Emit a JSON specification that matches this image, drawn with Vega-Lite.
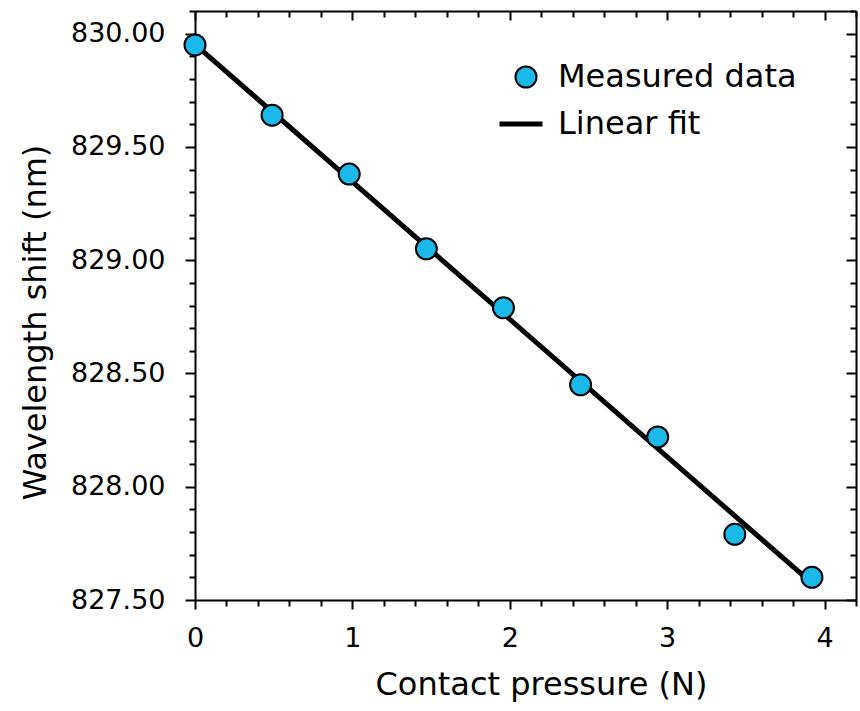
{
  "$schema": "https://vega.github.io/schema/vega-lite/v6.json",
  "width": 661,
  "height": 589,
  "autosize": "none",
  "padding": {"left": 195, "top": 11, "right": 4, "bottom": 111},
  "background": "white",
  "config": {"view": {"stroke": null}, "font": "DejaVu Sans"},
  "datasets": {
    "measured": [
      {"p": 0, "w": 829.95},
      {"p": 0.49, "w": 829.64},
      {"p": 0.98, "w": 829.38},
      {"p": 1.47, "w": 829.05},
      {"p": 1.96, "w": 828.79},
      {"p": 2.45, "w": 828.45},
      {"p": 2.94, "w": 828.22},
      {"p": 3.43, "w": 827.79},
      {"p": 3.92, "w": 827.60}
    ],
    "fit": [
      {"p": 0, "w": 829.953},
      {"p": 3.92, "w": 827.574}
    ]
  },
  "resolve": {"axis": {"x": "independent", "y": "independent"}},
  "layer": [
    {
      "data": {"name": "fit"},
      "mark": {"type": "line", "strokeWidth": 5, "strokeCap": "butt"},
      "encoding": {
        "x": {
          "field": "p", "type": "quantitative",
          "scale": {"domain": [0, 4.2], "nice": false, "zero": false},
          "axis": {
            "orient": "bottom",
            "values": [0, 0.2, 0.4, 0.6, 0.8, 1, 1.2, 1.4, 1.6, 1.8, 2, 2.2, 2.4, 2.6, 2.8, 3, 3.2, 3.4, 3.6, 3.8, 4, 4.2],
            "format": ".0f",
            "labelExpr": "datum.value % 1 === 0 ? datum.label : ''",
            "labelFont": "DejaVu Sans", "labelFontSize": 27, "labelColor": "black",
            "labelPadding": 16, "labelFlush": false, "labelOverlap": false,
            "tickSize": {"condition": {"test": "datum.value % 1 === 0", "value": 9}, "value": 6},
            "tickWidth": 2, "tickColor": "black",
            "domainColor": "black", "domainWidth": 2, "grid": false,
            "title": "Contact pressure (N)",
            "titleFont": "DejaVu Sans", "titleFontSize": 32, "titleFontWeight": "normal",
            "titleColor": "black", "titlePadding": 18, "titleX": 346
          }
        },
        "y": {
          "field": "w", "type": "quantitative",
          "scale": {"domain": [827.5, 830.1], "nice": false, "zero": false},
          "axis": {
            "orient": "left",
            "values": [827.5, 827.6, 827.7, 827.8, 827.9, 828.0, 828.1, 828.2, 828.3, 828.4, 828.5, 828.6, 828.7, 828.8, 828.9, 829.0, 829.1, 829.2, 829.3, 829.4, 829.5, 829.6, 829.7, 829.8, 829.9, 830.0, 830.1],
            "format": ".2f",
            "labelExpr": "abs(datum.value * 2 - round(datum.value * 2)) < 0.001 ? datum.label : ''",
            "labelFont": "DejaVu Sans", "labelFontSize": 27, "labelColor": "black",
            "labelPadding": 20, "labelFlush": false, "labelOverlap": false,
            "tickSize": {"condition": {"test": "abs(datum.value * 2 - round(datum.value * 2)) < 0.001", "value": 10}, "value": 6},
            "tickWidth": 2, "tickColor": "black",
            "domainColor": "black", "domainWidth": 2, "grid": false,
            "title": "Wavelength shift (nm)",
            "titleFont": "DejaVu Sans", "titleFontSize": 32, "titleFontWeight": "normal",
            "titleColor": "black", "titlePadding": 18, "titleY": 311
          }
        },
        "stroke": {
          "datum": "Linear fit",
          "scale": {"domain": ["Linear fit"], "range": ["#000000"]},
          "legend": {
            "orient": "none", "legendX": 302, "legendY": 89,
            "title": null, "padding": 0,
            "labelFont": "DejaVu Sans", "labelFontSize": 32, "labelColor": "black",
            "labelOffset": 13, "labelLimit": 600,
            "symbolType": "stroke", "symbolSize": 1849, "symbolStrokeWidth": 5,
            "symbolFillColor": "transparent"
          }
        }
      }
    },
    {
      "data": {"name": "measured"},
      "mark": {"type": "point", "filled": true, "size": 441, "stroke": "black", "strokeWidth": 2, "opacity": 1},
      "encoding": {
        "x": {
          "field": "p", "type": "quantitative",
          "axis": {
            "orient": "top",
            "values": [0, 0.2, 0.4, 0.6, 0.8, 1, 1.2, 1.4, 1.6, 1.8, 2, 2.2, 2.4, 2.6, 2.8, 3, 3.2, 3.4, 3.6, 3.8, 4, 4.2],
            "labels": false, "title": null,
            "tickSize": {"condition": {"test": "datum.value % 1 === 0", "value": -9}, "value": -6},
            "tickWidth": 2, "tickColor": "black",
            "domainColor": "black", "domainWidth": 2, "grid": false
          }
        },
        "y": {
          "field": "w", "type": "quantitative",
          "axis": {
            "orient": "right",
            "values": [827.5, 827.6, 827.7, 827.8, 827.9, 828.0, 828.1, 828.2, 828.3, 828.4, 828.5, 828.6, 828.7, 828.8, 828.9, 829.0, 829.1, 829.2, 829.3, 829.4, 829.5, 829.6, 829.7, 829.8, 829.9, 830.0, 830.1],
            "labels": false, "title": null,
            "tickSize": {"condition": {"test": "abs(datum.value * 2 - round(datum.value * 2)) < 0.001", "value": -10}, "value": -6},
            "tickWidth": 2, "tickColor": "black",
            "domainColor": "black", "domainWidth": 2, "grid": false
          }
        },
        "fill": {
          "datum": "Measured data",
          "scale": {"domain": ["Measured data"], "range": ["#1BB8EA"]},
          "legend": {
            "orient": "none", "legendX": 315, "legendY": 50,
            "title": null, "padding": 0,
            "labelFont": "DejaVu Sans", "labelFontSize": 32, "labelColor": "black",
            "labelOffset": 16, "labelLimit": 600,
            "symbolType": "circle", "symbolSize": 441,
            "symbolStrokeColor": "black", "symbolStrokeWidth": 2, "symbolOpacity": 1
          }
        }
      }
    }
  ]
}
